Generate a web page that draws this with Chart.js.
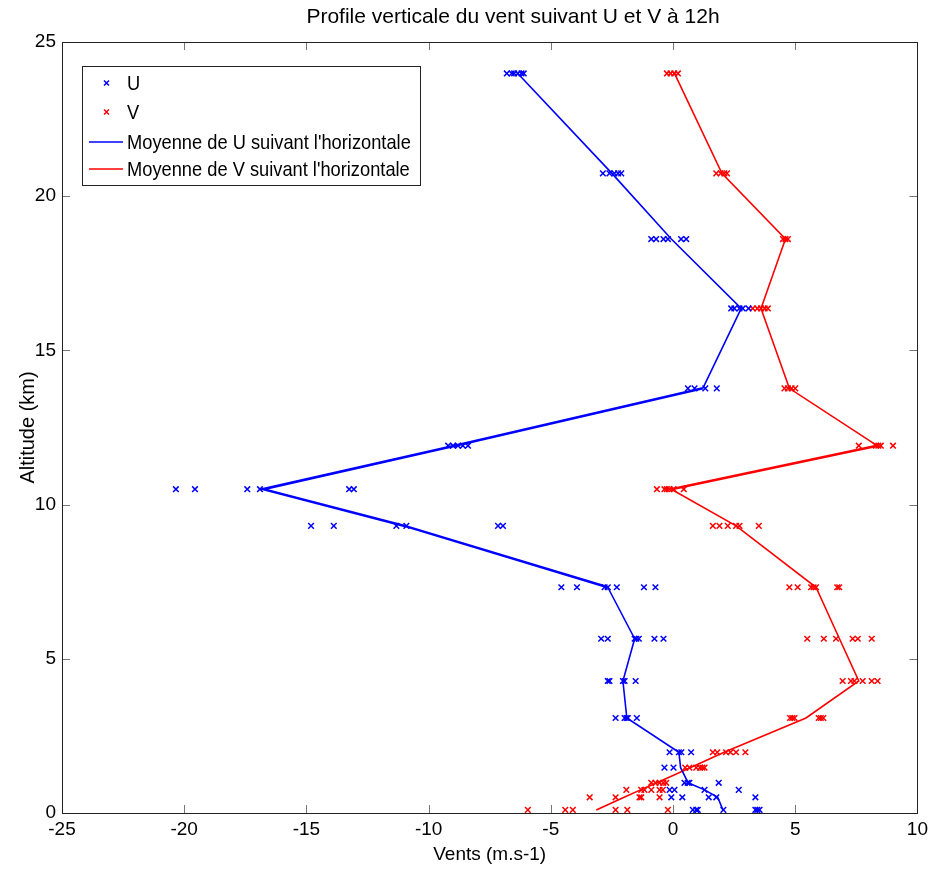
<!DOCTYPE html>
<html>
<head>
<meta charset="utf-8">
<script src="https://cdn.jsdelivr.net/npm/chart.js@4.4.1/dist/chart.umd.min.js"></script>
<style>
  html, body { margin: 0; padding: 0; background: #fff; }
</style>
</head>
<body>
<canvas id="chart" width="933" height="869"></canvas>
<script>
// altitudes (km) of the sounding levels
const altitudes = [0.1, 0.51, 0.75, 0.98, 1.47, 1.97, 3.08, 4.28, 5.65, 7.32, 9.31, 10.5, 11.91, 13.77, 16.36, 18.61, 20.74, 23.98];

// U samples at each level (m/s)
const uSamples = [
  [0.81, 0.95, 1.01, 2.06, 3.37, 3.45, 3.54],
  [-0.07, 0.38, 1.46, 1.77, 3.37],
  [-0.14, 0.06, 1.29, 2.69],
  [0.47, 0.6, 0.67, 1.87],
  [-0.35, 0.02],
  [-0.14, 0.24, 0.34, 0.74],
  [-2.35, -1.98, -1.9, -1.85, -1.48],
  [-2.67, -2.6, -2.05, -1.98, -1.53],
  [-2.94, -2.67, -1.57, -1.5, -1.4, -0.76, -0.39],
  [-4.57, -3.93, -2.8, -2.67, -2.3, -1.19, -0.72],
  [-14.81, -13.88, -11.32, -10.91, -7.16, -6.96],
  [-20.34, -19.56, -17.42, -16.9, -13.25, -13.06],
  [-9.2, -9.0, -8.8, -8.6, -8.39],
  [0.61, 0.88, 1.32, 1.79],
  [2.38, 2.51, 2.72, 2.85, 3.09],
  [-0.89, -0.69, -0.39, -0.21, 0.33, 0.54],
  [-2.87, -2.6, -2.4, -2.25, -2.12],
  [-6.8, -6.6, -6.5, -6.35, -6.2, -6.11]
];

// V samples at each level (m/s)
const vSamples = [
  [-5.94, -4.41, -4.1, -2.35, -1.87, -0.21],
  [-3.41, -2.35, -1.37, -1.3, -0.55],
  [-1.91, -1.3, -1.17, -0.89, -0.55, -0.42],
  [-0.89, -0.72, -0.55, -0.4, -0.28],
  [0.5, 0.67, 0.95, 1.1, 1.2, 1.29],
  [1.63, 1.81, 2.17, 2.35, 2.58, 2.96],
  [4.79, 4.88, 4.97, 5.96, 6.05, 6.15],
  [6.94, 7.28, 7.42, 7.76, 8.13, 8.37],
  [5.49, 6.17, 6.67, 7.35, 7.56, 8.13],
  [4.76, 5.1, 5.65, 5.75, 5.85, 6.72, 6.8],
  [1.63, 1.9, 2.24, 2.58, 2.72, 3.51],
  [-0.66, -0.35, -0.25, -0.14, 0.02, 0.44],
  [7.6, 8.3, 8.4, 8.5, 9.0],
  [4.56, 4.7, 4.85, 5.0],
  [3.26, 3.45, 3.6, 3.75, 3.88],
  [4.5, 4.6, 4.7],
  [1.77, 1.95, 2.1, 2.21],
  [-0.25, -0.1, 0.05, 0.2]
];

// horizontal means
const uMean = [2.04, 1.83, 1.29, 0.62, 0.31, 0.24, -1.89, -2.05, -1.57, -2.67, -10.98, -16.77, -8.93, 1.22, 2.79, -0.07, -2.5, -6.35];
const vMean = [-3.14, -2.0, -1.33, -0.66, 0.7, 2.09, 5.44, 7.6, 6.81, 5.85, 2.58, -0.07, 8.35, 4.76, 3.6, 4.6, 2.0, 0.06];

const xTicks = [-25, -20, -15, -10, -5, 0, 5, 10];
const yTicks = [0, 5, 10, 15, 20, 25];

const title = 'Profile verticale du vent suivant U et V à 12h';
const labels = ['U', 'V', "Moyenne de U suivant l'horizontale", "Moyenne de V suivant l'horizontale"];

function samplePoints(samples) {
  const pts = [];
  samples.forEach((row, i) => {
    row.forEach(v => pts.push({ x: v, y: altitudes[i] }));
  });
  return pts;
}

const fam = '"Liberation Sans", Arial, sans-serif';
Chart.defaults.font.family = fam;
Chart.defaults.color = '#000';

// matlab style box, inward ticks, title and legend inside the axes
const axesBox = {
  id: 'axesBox',
  afterDraw(chart) {
    const ctx = chart.ctx;
    const a = chart.chartArea;
    const xs = chart.scales.x, ys = chart.scales.y;
    ctx.save();
    ctx.strokeStyle = '#777';
    ctx.lineWidth = 1;
    ctx.beginPath();
    xTicks.forEach(t => {
      const px = Math.round(xs.getPixelForValue(t)) + 0.5;
      ctx.moveTo(px, a.bottom); ctx.lineTo(px, a.bottom - 8);
      ctx.moveTo(px, a.top); ctx.lineTo(px, a.top + 8);
    });
    yTicks.forEach(t => {
      const py = Math.round(ys.getPixelForValue(t)) + 0.5;
      ctx.moveTo(a.left, py); ctx.lineTo(a.left + 8, py);
      ctx.moveTo(a.right, py); ctx.lineTo(a.right - 8, py);
    });
    ctx.stroke();
    ctx.strokeStyle = '#222';
    ctx.strokeRect(Math.round(a.left) + 0.5, Math.round(a.top) + 0.5,
                   Math.round(a.right - a.left), Math.round(a.bottom - a.top));

    // title
    ctx.fillStyle = '#000';
    ctx.font = '21px ' + fam;
    ctx.textAlign = 'center';
    ctx.textBaseline = 'middle';
    ctx.fillText(title, 513, 17);

    // legend
    const lx = 82.5, ly = 66.5, lw = 338, lh = 119;
    ctx.fillStyle = '#fff';
    ctx.fillRect(lx, ly, lw, lh);
    ctx.strokeStyle = '#222';
    ctx.strokeRect(lx, ly, lw, lh);
    const rows = [83, 112, 142, 169];
    ctx.font = '21px ' + fam;
    ctx.textAlign = 'left';
    chart.data.datasets.forEach((ds, i) => {
      const y = rows[i];
      ctx.strokeStyle = ds.borderColor;
      ctx.lineWidth = 1.5;
      ctx.beginPath();
      if (ds.showLine) {
        ctx.moveTo(89, y); ctx.lineTo(123, y);
      } else {
        ctx.moveTo(104, y - 2.5); ctx.lineTo(109, y + 2.5);
        ctx.moveTo(104, y + 2.5); ctx.lineTo(109, y - 2.5);
      }
      ctx.stroke();
      ctx.fillStyle = '#000';
      ctx.save();
      ctx.translate(127, y + 1);
      ctx.scale(0.87, 1);
      ctx.fillText(ds.label, 0, 0);
      ctx.restore();
    });
    ctx.restore();
  }
};

const ctx = document.getElementById('chart').getContext('2d');
const myChart = new Chart(ctx, {
  type: 'scatter',
  data: {
    datasets: [
      {
        label: labels[0],
        data: samplePoints(uSamples),
        showLine: false,
        pointStyle: 'crossRot',
        pointRadius: 4,
        borderColor: '#0000ff',
        backgroundColor: '#0000ff',
        borderWidth: 1.5
      },
      {
        label: labels[1],
        data: samplePoints(vSamples),
        showLine: false,
        pointStyle: 'crossRot',
        pointRadius: 4,
        borderColor: '#ff0000',
        backgroundColor: '#ff0000',
        borderWidth: 1.5
      },
      {
        label: labels[2],
        data: altitudes.map((h, i) => ({ x: uMean[i], y: h })),
        showLine: true,
        pointRadius: 0,
        borderColor: '#0000ff',
        borderWidth: 1.6,
        segment: {
          borderWidth: c => Math.abs(c.p1.x - c.p0.x) > 120 ? 2.6 : 1.6
        }
      },
      {
        label: labels[3],
        data: altitudes.map((h, i) => ({ x: vMean[i], y: h })),
        showLine: true,
        pointRadius: 0,
        borderColor: '#ff0000',
        borderWidth: 1.6,
        segment: {
          borderWidth: c => Math.abs(c.p1.x - c.p0.x) > 120 ? 2.6 : 1.6
        }
      }
    ]
  },
  options: {
    responsive: false,
    animation: false,
    layout: { padding: { top: 42, right: 15, left: 0, bottom: 0 } },
    plugins: {
      legend: { display: false },
      tooltip: { enabled: false },
      title: { display: false }
    },
    scales: {
      x: {
        type: 'linear',
        min: -25, max: 10,
        afterFit(s) { s.height = 56; },
        afterBuildTicks(s) { s.ticks = xTicks.map(v => ({ value: v })); },
        grid: { display: false, drawTicks: false },
        border: { display: false },
        ticks: { padding: 5, font: { size: 19 }, maxRotation: 0 },
        title: { display: true, text: 'Vents (m.s-1)', font: { size: 19 }, padding: { top: 0, bottom: 3 } }
      },
      y: {
        type: 'linear',
        min: 0, max: 25,
        afterFit(s) { s.width = 62; },
        afterBuildTicks(s) { s.ticks = yTicks.map(v => ({ value: v })); },
        grid: { display: false, drawTicks: false },
        border: { display: false },
        ticks: { padding: 6, font: { size: 19 } },
        title: { display: true, text: 'Altitude (km)', font: { size: 20 }, padding: { top: 16, bottom: 0 } }
      }
    }
  },
  plugins: [axesBox]
});
</script>
</body>
</html>
